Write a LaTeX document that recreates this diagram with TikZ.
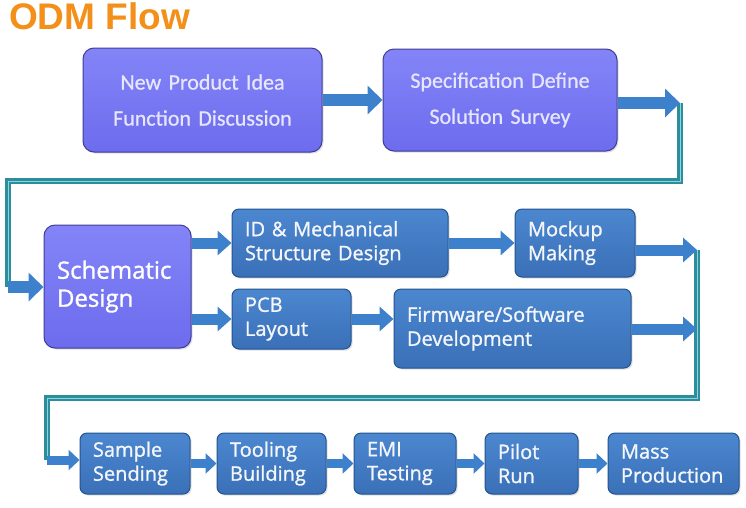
\documentclass[tikz,border=0pt]{standalone}
\usepackage{fontspec}
\setmainfont{Open Sans}
\newfontfamily\boxfont[FakeBold=1.2]{Open Sans}
\newfontfamily\calfont[FakeBold=0.8]{Carlito}
\newfontfamily\titlefont{Liberation Sans}
\usetikzlibrary{arrows.meta,shadows}
\definecolor{ptop}{HTML}{8484F8}
\definecolor{pbot}{HTML}{6C6CEE}
\definecolor{pedge}{HTML}{3E3E96}
\definecolor{btop}{HTML}{4B87CF}
\definecolor{bbot}{HTML}{3A70B8}
\definecolor{bedge}{HTML}{23538F}
\definecolor{arrblue}{HTML}{3D80CB}
\definecolor{arredge}{HTML}{2A5C99}
\definecolor{tealc}{HTML}{2C8E9C}
\definecolor{teall}{HTML}{8FD4DC}
\definecolor{orng}{HTML}{F39019}
\definecolor{ptext}{HTML}{E6E6FF}
\definecolor{btext}{HTML}{F4F6FA}
\tikzset{
  pbox/.style={draw=pedge, line width=1pt, rounded corners=11pt,
    top color=ptop, bottom color=pbot, text=ptext,
    drop shadow={shadow xshift=1.5pt, shadow yshift=-1.5pt, opacity=0.25},
    inner xsep=13pt, inner ysep=0pt},
  bbox/.style={draw=bedge, line width=1pt, rounded corners=7pt,
    top color=btop, bottom color=bbot, text=btext, align=left,
    drop shadow={shadow xshift=1.5pt, shadow yshift=-1.5pt, opacity=0.25},
    inner xsep=13pt, inner ysep=0pt, minimum height=61pt,
    font=\boxfont\fontsize{20}{24}\selectfont},
  fatarrow/.style={draw=arrblue, line width=12pt,
    -{Triangle[width=28pt,length=15pt]}},
  midarrow/.style={draw=arrblue, line width=11pt,
    -{Triangle[width=24pt,length=14pt]}},
  smallarrow/.style={draw=arrblue, line width=9pt,
    -{Triangle[width=20pt,length=11pt]}},
  link/.style={draw=tealc, line width=2.6pt, double=teall, double distance=0.8pt}
}
\begin{document}
\begin{tikzpicture}[x=1pt,y=-1pt]
\useasboundingbox (0,0) rectangle (746,507);
\fill[white] (0,0) rectangle (746,507);

\node[anchor=base west, text=orng, inner sep=0pt,
  font=\titlefont\bfseries\fontsize{37}{40}\selectfont] (title) at (9,29) {ODM Flow};

% top row
\node[pbox, minimum width=239pt, minimum height=104pt, text width=213pt, align=center,
  font=\calfont\fontsize{22}{36}\selectfont] (idea) at (202.5,100)
  {New Product Idea\\Function Discussion};
\node[pbox, minimum width=234pt, minimum height=102pt, text width=208pt, align=center,
  font=\calfont\fontsize{22}{36}\selectfont] (spec) at (500,100)
  {Specification Define\\Solution Survey};

% middle row
\node[pbox, minimum width=147pt, minimum height=123pt, text width=121pt, align=left,
  text=white, font=\boxfont\fontsize{24}{28}\selectfont] (sch) at (117.5,286.5)
  {Schematic\\Design};
\node[bbox, minimum height=68pt, text width=190pt] (idm) at (340,243)
  {ID \& Mechanical\\Structure Design};
\node[bbox, minimum height=68pt, text width=94pt] (mock) at (575,243)
  {Mockup\\Making};
\node[bbox, minimum height=60pt, text width=93pt] (pcb) at (291.5,319)
  {PCB\\Layout};
\node[bbox, minimum height=79pt, text width=211pt] (fw) at (512.5,328.5)
  {Firmware/Software\\Development};

% bottom row
\node[bbox, text width=84pt] (sample) at (135,463.5) {Sample\\Sending};
\node[bbox, text width=83pt] (tool) at (271.5,463.5) {Tooling\\Building};
\node[bbox, text width=76pt] (emi) at (405,463.5) {EMI\\Testing};
\node[bbox, text width=67pt] (pilot) at (531.5,463.5) {Pilot\\Run};
\node[bbox, text width=105pt] (mass) at (673.5,463.5) {Mass\\Production};

% route coordinates
\coordinate (c1) at (680,103);
\coordinate (c2) at (680,181);
\coordinate (c3) at (8,181);
\coordinate (c4) at (8,287);
\coordinate (m) at (697,250);
\coordinate (f) at (697,329);
\coordinate (c6) at (697,398);
\coordinate (c7) at (47,398);
\coordinate (c8) at (47,460);

% teal routes
\draw[link] (c1) -- (c2) -- (c3) -- (c4);
\draw[link] (m) -- (c6) -- (c7) -- (c8);

% arrows
\draw[fatarrow] (idea.east) -- (spec.west |- idea.east);
\draw[fatarrow] (spec.east |- c1) -- (c1);
\draw[fatarrow] (c4) -- (sch.west |- c4);
\draw[midarrow] (sch.east |- idm.west) -- (idm.west);
\draw[midarrow] (sch.east |- pcb.west) -- (pcb.west);
\draw[midarrow] (idm.east) -- (mock.west);
\draw[midarrow] (pcb.east) -- (fw.west |- pcb.east);
\draw[midarrow] (mock.east |- m) -- (m);
\draw[midarrow] (fw.east |- f) -- (f);
\draw[smallarrow] (c8) -- (sample.west |- c8);
\draw[smallarrow] (sample.east) -- (tool.west);
\draw[smallarrow] (tool.east) -- (emi.west);
\draw[smallarrow] (emi.east) -- (pilot.west);
\draw[smallarrow] (pilot.east) -- (mass.west);
\end{tikzpicture}
\end{document}
